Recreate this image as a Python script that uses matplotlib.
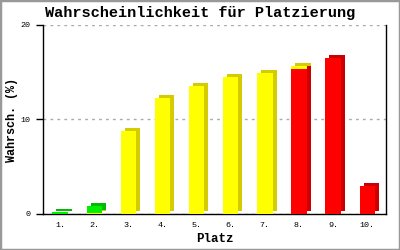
import numpy as np
import matplotlib
matplotlib.use("Agg")
import matplotlib.pyplot as plt
import matplotlib.patheffects as pe

places = ["1.", "2.", "3.", "4.", "5.", "6.", "7.", "8.", "9.", "10."]
red = [0, 0, 0, 0, 0, 0, 0, 15.3, 16.5, 3.0]
yellow = [0, 0.1, 8.8, 12.3, 13.5, 14.5, 14.9, 0.4, 0, 0]
green = [0.2, 0.7, 0, 0, 0, 0, 0, 0, 0, 0]

plt.rcParams['font.family'] = ['Liberation Mono', 'DejaVu Sans Mono']

fig = plt.figure(figsize=(4, 2.5), dpi=100)
ax = fig.add_axes([0.1075, 0.144, 0.8575, 0.756])

x = np.arange(1, len(places) + 1)
w = 0.45

def shade(dark):
    return [pe.SimplePatchShadow(offset=(2.9, 2.2), shadow_rgbFace=dark, alpha=1.0),
            pe.Normal()]

bottom = np.zeros(len(places))
for vals, face, dark in [(red, '#ff0000', '#cc0000'),
                         (yellow, '#ffff00', '#d4cc00'),
                         (green, '#00ee00', '#00bb00')]:
    vals = np.array(vals)
    mask = vals > 0
    bars = ax.bar(x[mask], vals[mask], w, bottom=bottom[mask], color=face,
                  linewidth=0, zorder=3)
    for b in bars:
        b.set_path_effects(shade(dark))
    bottom = bottom + vals

ax.set_xlim(0.5, 10.55)
ax.set_ylim(0, 20)
ax.set_yticks([0, 10, 20])
ax.set_xticks(x)
ax.set_xticklabels(places)
ax.tick_params(axis='x', length=0, labelsize=6, pad=6)
ax.tick_params(axis='y', length=5, width=1, labelsize=6, pad=4)
ax.yaxis.grid(True, color='#aaaaaa', linestyle=(0, (2, 3)), linewidth=1)
ax.set_axisbelow(True)
ax.spines['top'].set_visible(False)
ax.spines['right'].set_linewidth(1)
ax.spines['left'].set_linewidth(1)
ax.spines['bottom'].set_linewidth(1)

ax.set_xlabel('Platz', fontsize=9, fontweight='bold', labelpad=3)
fig.text(12 / 400, 1 - 120 / 250, 'Wahrsch. (%)', rotation=90, fontsize=8.5,
         fontweight='bold', ha='center', va='center')
fig.suptitle('Wahrscheinlichkeit für Platzierung', fontsize=11, fontweight='bold',
             x=0.5, y=0.975)

fig.patches.append(plt.Rectangle((0, 0), 1, 1, transform=fig.transFigure,
                                 fill=False, edgecolor='#999999', linewidth=2.5))

fig.savefig("out.png", dpi=100)
